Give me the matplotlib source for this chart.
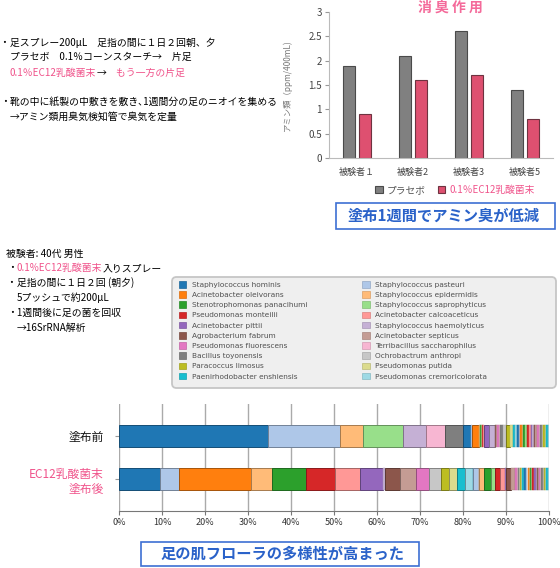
import numpy as np
import matplotlib
matplotlib.use("Agg")
import matplotlib.pyplot as plt
from matplotlib.patches import Patch, Rectangle, FancyBboxPatch
from matplotlib.colors import to_rgb

plt.rcParams['font.family'] = ['Noto Sans CJK JP', 'DejaVu Sans']

# --- top chart: amine odour ---
subjects = ['被験者１', '被験者2', '被験者3', '被験者5']
placebo = [1.9, 2.1, 2.6, 1.4]
ec12 = [0.9, 1.6, 1.7, 0.8]
series_names = ['プラセボ', '0.1％EC12乳酸菌末']

# --- bottom chart: skin flora composition (%) ---
species = ['Staphylococcus hominis', 'Staphylococcus pasteuri',
           'Acinetobacter oleivorans', 'Staphylococcus epidermidis',
           'Stenotrophomonas panacihumi', 'Staphylococcus saprophyticus',
           'Pseudomonas monteilii', 'Acinetobacter calcoaceticus',
           'Acinetobacter pittii', 'Staphylococcus haemolyticus',
           'Agrobacterium fabrum', 'Acinetobacter septicus',
           'Pseudomonas fluorescens', 'Terribacillus saccharophilus',
           'Bacillus toyonensis', 'Ochrobactrum anthropi',
           'Paracoccus limosus', 'Pseudomonas putida',
           'Paenirhodobacter enshiensis', 'Pseudomonas cremoricolorata']
rows = ['塗布前', 'EC12乳酸菌末\n塗布後']
before = [34.7, 16.7, 0.0, 5.3, 0.0, 9.3, 0.0, 0.0, 0.0, 5.3,
          0.0, 0.0, 0.0, 4.4, 4.2, 0.0, 0.0, 0.0, 0.0, 0.0,
          1.9, 0.4, 1.6, 0.2, 0.2, 0.2, 0.2, 0.2, 1.3, 1.3,
          0.2, 0.3, 0.5, 0.3, 0.5, 0.8, 1.0, 0.6, 0.4, 0.5,
          0.5, 0.3, 0.4, 0.3, 0.5, 0.3, 0.6, 0.3, 0.4, 0.3,
          0.3, 0.4, 0.5, 0.3, 0.4, 0.3, 0.4, 0.3, 0.4, 0.3]
after = [9.5, 4.4, 16.7, 4.9, 8.1, 0.0, 6.7, 5.7, 5.4, 0.5,
         3.5, 3.6, 3.2, 0.0, 0.0, 2.6, 1.9, 1.8, 1.9, 1.9,
         0.1, 1.3, 0.1, 1.1, 1.5, 1.1, 1.1, 1.2, 0.1, 0.1,
         1.1, 0.9, 0.5, 0.2, 0.4, 0.2, 0.3, 0.2, 0.3, 0.2,
         0.4, 0.3, 0.3, 0.2, 0.4, 0.2, 0.3, 0.2, 0.3, 0.2,
         0.4, 0.2, 0.3, 0.2, 0.3, 0.3, 0.3, 0.3, 0.4, 0.2]

pink = '#f0538b'
blue = '#2a62c9'
tab20 = plt.get_cmap('tab20').colors


def darker(c, f=0.65):
    return tuple(v * f for v in to_rgb(c))


W, H = 560, 568
fig = plt.figure(figsize=(W / 100, H / 100), dpi=100)
ax0 = fig.add_axes([0, 0, 1, 1], zorder=-1)
ax0.axis('off')


def fx(px):
    return px / W


def fy(py):
    return 1 - py / H


# ---------- text block, top left ----------
fs = 7.1
fig.text(fx(0.5), fy(43), '・足スプレー200μL　足指の間に１日２回朝、夕', fontsize=fs, va='center')
fig.text(fx(10), fy(57), 'プラセボ　0.1％コーンスターチ→　片足', fontsize=fs, va='center')
t = fig.text(fx(10), fy(73), '0.1％EC12乳酸菌末', fontsize=fs, va='center', color=pink)
t = ax0.annotate('→', xy=(1, 0), xycoords=t, va='bottom', fontsize=fs)
ax0.annotate('　もう一方の片足', xy=(1, 0), xycoords=t, va='bottom', fontsize=fs, color=pink)
fig.text(fx(0.5), fy(102), '・靴の中に紙製の中敷きを敷き､1週間分の足のニオイを集める', fontsize=fs, va='center')
fig.text(fx(10), fy(117), '→アミン類用臭気検知管で臭気を定量', fontsize=fs, va='center')

# ---------- text block, middle left ----------
fig.text(fx(6), fy(254), '被験者: 40代 男性', fontsize=fs, va='center')
t = fig.text(fx(7), fy(268), '・', fontsize=fs, va='center')
t = ax0.annotate('0.1%EC12乳酸菌末', xy=(1, 0), xycoords=t, va='bottom', fontsize=fs, color=pink)
ax0.annotate('入りスプレー', xy=(1, 0), xycoords=t, va='bottom', fontsize=fs)
fig.text(fx(7), fy(283), '・足指の間に１日２回 (朝夕)', fontsize=fs, va='center')
fig.text(fx(17), fy(298), '5プッシュで約200μL', fontsize=fs, va='center')
fig.text(fx(7), fy(313), '・1週間後に足の菌を回収', fontsize=fs, va='center')
fig.text(fx(17), fy(328), '→16SrRNA解析', fontsize=fs, va='center')

# ---------- top bar chart ----------
ax1 = fig.add_axes([fx(329), fy(158), fx(553) - fx(329), fy(12) - fy(158)])
x = np.arange(len(subjects))
ax1.bar(x - 0.14, placebo, 0.22, color='#808080', edgecolor='#4a4a4a', linewidth=0.8,
        label=series_names[0])
ax1.bar(x + 0.14, ec12, 0.22, color='#de5070', edgecolor='#6e3340', linewidth=0.8,
        label=series_names[1])
ax1.set_xlim(-0.5, 3.5)
ax1.set_ylim(0, 3)
ax1.set_yticks([0, 0.5, 1, 1.5, 2, 2.5, 3], ['0', '0.5', '1', '1.5', '2', '2.5', '3'])
ax1.set_xticks(x, subjects)
for s in ['top', 'right']:
    ax1.spines[s].set_visible(False)
for s in ['left', 'bottom']:
    ax1.spines[s].set_color('#bbbbbb')
ax1.tick_params(axis='y', length=3, color='#999999', labelsize=7, labelcolor='#444444', pad=2)
ax1.tick_params(axis='x', length=0, labelsize=6.5, labelcolor='#444444', pad=7)
ax1.set_ylabel('アミン類（ppm/400mL)', fontsize=6, color='#777777')
ax1.yaxis.set_label_coords(-0.165, 0.5)
leg1 = ax1.legend(loc='center', bbox_to_anchor=(fx(455), fy(190)), bbox_transform=fig.transFigure,
                  ncol=2, frameon=False, fontsize=7, handlelength=0.8, handleheight=0.8,
                  handletextpad=0.4, columnspacing=1.2)
leg1.get_texts()[0].set_color('#555555')
leg1.get_texts()[1].set_color(pink)

fig.text(fx(450), fy(8), '消 臭 作 用', fontsize=10, fontweight='bold', color='#f46a9a',
         ha='center', va='center')

# ---------- callout boxes ----------
fig.add_artist(Rectangle((fx(336), fy(229)), fx(555) - fx(336), fy(203) - fy(229),
                         transform=fig.transFigure, fc='white', ec='#3d6fd3', lw=1.2))
fig.text(fx(444), fy(216), '塗布1週間でアミン臭が低減', fontsize=11, fontweight='bold',
         color=blue, ha='center', va='center')
fig.add_artist(Rectangle((fx(141), fy(566)), fx(419) - fx(141), fy(542) - fy(566),
                         transform=fig.transFigure, fc='white', ec='#3d6fd3', lw=1.2))
fig.text(fx(282), fy(554), '足の肌フローラの多様性が高まった', fontsize=11, fontweight='bold',
         color=blue, ha='center', va='center')

# ---------- species legend ----------
fig.add_artist(FancyBboxPatch((fx(172), fy(388)), fx(556) - fx(172), fy(277) - fy(388),
                              boxstyle='round,pad=0,rounding_size=0.008',
                              transform=fig.transFigure, fc='#efefef', ec='#c6c6c6', lw=1.3))
order = list(range(0, 20, 2)) + list(range(1, 20, 2))
handles = [Patch(facecolor=tab20[i], edgecolor=darker(tab20[i], 0.85), linewidth=0.5) for i in order]
labels = [species[i] for i in order]
leg2 = fig.legend(handles, labels, loc='upper left', bbox_to_anchor=(fx(179), fy(281)),
                  ncol=2, frameon=False, prop={'family': 'DejaVu Sans', 'size': 5.3},
                  handlelength=1.0, handleheight=1.0, handletextpad=0.7,
                  labelspacing=0.46, columnspacing=7.5, borderpad=0, borderaxespad=0)
for tx in leg2.get_texts():
    tx.set_color('#505050')

# ---------- stacked composition bars ----------
ax2 = fig.add_axes([fx(119), fy(511), fx(549) - fx(119), fy(404) - fy(511)])
for r, vals in enumerate([before, after]):
    left = 0.0
    for i, v in enumerate(vals):
        if v > 0:
            c = tab20[i % 20]
            ax2.barh(r, v, left=left, height=0.49, color=c, edgecolor=darker(c, 0.65 if v >= 1 else 0.85),
                     linewidth=0.7 if v >= 1 else 0.3)
        left += v
ax2.set_xlim(0, 100)
ax2.set_ylim(1.744, -0.744)
ax2.set_xticks(np.arange(0, 101, 10), [f'{v}%' for v in range(0, 101, 10)])
ax2.set_yticks([0, 1], rows)
ax2.set_axisbelow(True)
ax2.grid(axis='x', color='#aaaaaa', linewidth=1)
for s in ['top', 'right', 'left']:
    ax2.spines[s].set_visible(False)
ax2.spines['bottom'].set_color('#777777')
ax2.tick_params(axis='x', length=3, color='#777777', labelsize=6.5, labelcolor='#333333', pad=2)
ax2.tick_params(axis='y', length=3, color='#999999', labelsize=8.5, pad=8)
ax2.get_yticklabels()[1].set_color(pink)
ax2.get_yticklabels()[0].set_color('#111111')

fig.savefig('out.png', dpi=100)
